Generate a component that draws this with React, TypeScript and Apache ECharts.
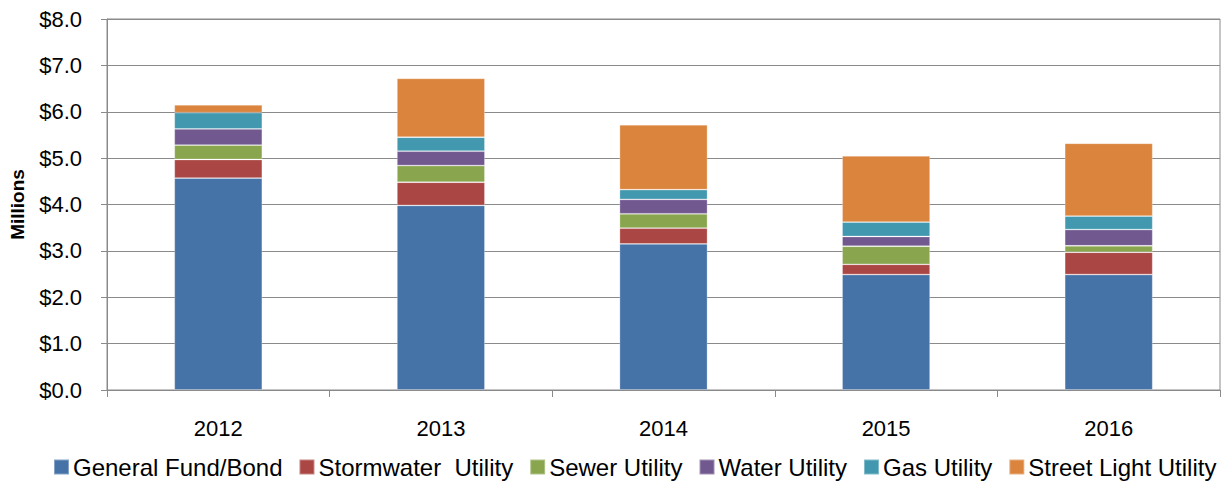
import React, { useEffect, useRef } from "react";
import * as echarts from "echarts";

const years = ["2012", "2013", "2014", "2015", "2016"];

const generalFund = [4.57, 3.98, 3.15, 2.49, 2.49];
const stormwater = [0.4, 0.5, 0.34, 0.22, 0.48];
const sewer = [0.31, 0.36, 0.31, 0.39, 0.14];
const water = [0.35, 0.31, 0.31, 0.21, 0.35];
const gas = [0.35, 0.3, 0.21, 0.31, 0.29];
const streetLight = [0.17, 1.27, 1.4, 1.43, 1.57];

const seriesNames = [
  "General Fund/Bond",
  "Stormwater  Utility",
  "Sewer Utility",
  "Water Utility",
  "Gas Utility",
  "Street Light Utility",
];
const seriesValues = [generalFund, stormwater, sewer, water, gas, streetLight];
const seriesColors = ["#4572A7", "#AA4643", "#89A54E", "#71588F", "#4198AF", "#DB843D"];

const FONT = "'Liberation Sans', Arial, sans-serif";
const AXIS_GRAY = "#8a8a8a";

export default function App() {
  const ref = useRef<HTMLDivElement>(null);

  useEffect(() => {
    if (!ref.current) return;
    const chart = echarts.init(ref.current, undefined, { renderer: "svg" });
    chart.setOption({
      animation: false,
      backgroundColor: "#ffffff",
      textStyle: { fontFamily: FONT },
      grid: {
        left: 106,
        right: 8,
        top: 19,
        bottom: 95,
        show: true,
        borderColor: AXIS_GRAY,
        borderWidth: 1,
      },
      legend: {
        left: 48,
        top: 450,
        itemWidth: 15,
        itemHeight: 15,
        itemGap: 16,
        icon: "rect",
        textStyle: { fontSize: 24, color: "#000", fontFamily: FONT, padding: [0, 0, 0, -1] },
        data: seriesNames,
      },
      xAxis: {
        type: "category",
        data: years,
        axisLine: { lineStyle: { color: AXIS_GRAY, width: 1 } },
        axisTick: { show: true, length: 7, lineStyle: { color: AXIS_GRAY } },
        axisLabel: { fontSize: 22, color: "#000", margin: 27, fontFamily: FONT },
      },
      yAxis: {
        type: "value",
        min: 0,
        max: 8,
        interval: 1,
        name: "Millions",
        nameLocation: "middle",
        nameGap: 80,
        nameTextStyle: { fontSize: 19, fontWeight: "bold", color: "#000", fontFamily: FONT },
        axisLine: { show: true, lineStyle: { color: AXIS_GRAY, width: 1 } },
        axisTick: { show: true, length: 6, lineStyle: { color: AXIS_GRAY } },
        axisLabel: {
          fontSize: 22,
          color: "#000",
          margin: 25,
          fontFamily: FONT,
          formatter: (v: number) => "$" + v.toFixed(1),
        },
        splitLine: { show: true, lineStyle: { color: AXIS_GRAY, width: 1 } },
      },
      series: seriesNames.map((name, i) => ({
        name,
        type: "bar",
        stack: "total",
        barWidth: 88,
        data: seriesValues[i],
        itemStyle: {
          color: seriesColors[i],
          borderColor: "rgba(255,255,255,0.35)",
          borderWidth: 0.8,
        },
      })),
    });
    return () => chart.dispose();
  }, []);

  return <div ref={ref} style={{ width: 1228, height: 485, position: "absolute", left: 0, top: 0 }} />;
}
